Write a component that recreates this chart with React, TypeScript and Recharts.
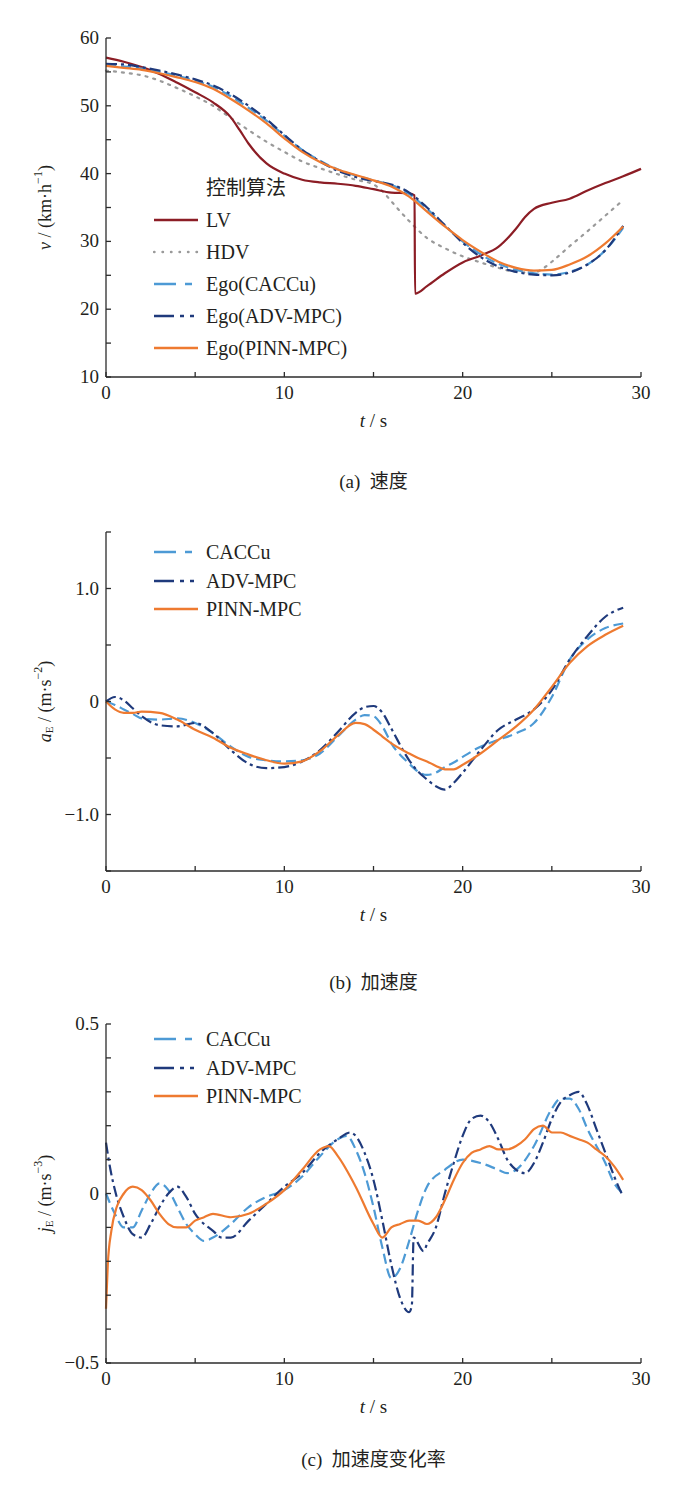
import React from 'react';
import { LineChart, Line, XAxis, YAxis } from 'recharts';

// ---- (a) speed, km/h ----
const lvT = [0, 1, 2, 3, 4, 5, 6, 7, 7.5, 8, 9, 10, 11, 12, 13, 14, 15, 16, 17, 17.3, 17.33, 18, 19, 20, 21, 22, 23, 23.5, 24, 25, 26, 27, 28, 29, 30];
const lvV = [57.1, 56.5, 55.7, 54.7, 53.4, 52.0, 50.5, 48.3, 46.4, 44.4, 41.5, 40.0, 39.1, 38.7, 38.5, 38.2, 37.7, 37.2, 37.1, 36.8, 22.3, 23.4, 25.3, 26.9, 27.9, 29.2, 31.9, 33.6, 34.8, 35.7, 36.3, 37.5, 38.6, 39.6, 40.7];

const hdvT = [0, 1, 2, 3, 4, 5, 6, 7, 8, 9, 10, 11, 12, 13, 14, 15, 15.5, 16, 17, 18, 19, 20, 21, 22, 23, 24, 24.5, 25, 26, 27, 28, 29];
const hdvV = [55.2, 54.9, 54.5, 53.7, 52.6, 51.4, 50.0, 48.2, 46.4, 44.7, 43.2, 41.8, 40.8, 39.9, 39.1, 38.4, 37.4, 35.9, 33.0, 30.5, 29.0, 27.8, 26.9, 26.1, 25.5, 25.4, 26.0, 27.0, 29.3, 31.5, 33.8, 36.1];

const egoT = [0, 1, 2, 3, 4, 5, 6, 7, 8, 9, 10, 11, 12, 13, 14, 15, 16, 17, 18, 19, 20, 21, 22, 23, 24, 25, 26, 27, 28, 29];
const caccV = [56.0, 55.8, 55.5, 55.0, 54.4, 53.7, 52.8, 51.4, 49.7, 47.8, 45.6, 43.5, 41.9, 40.6, 39.7, 39.0, 38.3, 37.0, 34.8, 32.3, 30.0, 28.1, 26.7, 25.8, 25.3, 25.1, 25.5, 26.6, 28.7, 32.0];
const advV = [56.2, 56.1, 55.7, 55.2, 54.6, 53.9, 53.0, 51.7, 50.0, 48.0, 45.7, 43.5, 41.8, 40.4, 39.5, 38.9, 38.4, 37.2, 35.0, 32.4, 29.8, 27.7, 26.3, 25.5, 25.1, 25.0, 25.4, 26.6, 28.7, 32.3];
const pinnV = [55.9, 55.6, 55.3, 54.8, 54.2, 53.5, 52.5, 51.0, 49.3, 47.4, 45.2, 43.2, 41.7, 40.6, 39.8, 39.0, 38.1, 36.6, 34.4, 32.2, 30.2, 28.5, 27.0, 26.1, 25.7, 25.8, 26.6, 27.8, 29.7, 32.2];

// ---- (b) acceleration, m/s^2 ----
const accT = [0, 0.5, 1, 1.5, 2, 3, 4, 5, 6, 7, 8, 9, 10, 11, 12, 13, 14, 14.5, 15, 15.5, 16, 17, 17.5, 18, 18.5, 19, 19.5, 20, 21, 22, 23, 24, 25, 26, 27, 28, 29];
const accCacc = [0, -0.03, -0.07, -0.11, -0.15, -0.16, -0.15, -0.19, -0.28, -0.40, -0.49, -0.52, -0.53, -0.52, -0.46, -0.31, -0.16, -0.12, -0.13, -0.22, -0.37, -0.55, -0.62, -0.65, -0.63, -0.58, -0.54, -0.49, -0.40, -0.34, -0.28, -0.19, 0.04, 0.37, 0.55, 0.65, 0.69];
const accAdv = [0, 0.04, 0.01, -0.06, -0.13, -0.21, -0.22, -0.19, -0.28, -0.43, -0.55, -0.59, -0.58, -0.53, -0.43, -0.27, -0.10, -0.05, -0.04, -0.10, -0.24, -0.52, -0.62, -0.69, -0.75, -0.78, -0.72, -0.63, -0.43, -0.25, -0.16, -0.07, 0.10, 0.37, 0.58, 0.75, 0.83];
const accPinn = [0, -0.07, -0.10, -0.10, -0.09, -0.10, -0.16, -0.25, -0.32, -0.41, -0.47, -0.52, -0.55, -0.53, -0.44, -0.30, -0.19, -0.20, -0.25, -0.31, -0.37, -0.46, -0.50, -0.53, -0.57, -0.60, -0.60, -0.56, -0.46, -0.34, -0.22, -0.07, 0.13, 0.34, 0.49, 0.59, 0.67];

// ---- (c) jerk, m/s^3 ----
const jCaccT = [0, 0.5, 1, 1.5, 2, 2.5, 3, 3.5, 4, 4.5, 5, 5.5, 6, 7, 8, 9, 10, 11, 12, 13, 13.5, 14, 14.5, 15, 15.5, 16, 16.5, 17, 17.5, 18, 19, 20, 21, 22, 22.5, 23, 24, 25, 25.5, 26, 26.5, 27, 28, 28.5, 29];
const jCaccV = [0, -0.06, -0.10, -0.10, -0.05, 0.0, 0.03, 0.01, -0.04, -0.09, -0.12, -0.14, -0.13, -0.09, -0.04, -0.01, 0.01, 0.05, 0.11, 0.16, 0.17, 0.13, 0.06, -0.04, -0.16, -0.25, -0.22, -0.14, -0.05, 0.02, 0.07, 0.10, 0.09, 0.07, 0.06, 0.07, 0.14, 0.25, 0.28, 0.28, 0.25, 0.19, 0.09, 0.03, 0.0];

const jAdvT = [0, 0.25, 0.5, 1, 1.5, 2, 2.5, 3, 3.5, 4, 4.5, 5, 6, 6.5, 7, 8, 9, 10, 11, 12, 13, 13.7, 14, 14.5, 15, 15.5, 16, 16.5, 17, 17.15, 17.25, 17.8, 18, 18.5, 19, 19.5, 20, 20.5, 21, 21.5, 22, 22.5, 23, 23.5, 24, 24.5, 25, 25.5, 26, 26.5, 27, 27.5, 28, 28.5, 29];
const jAdvV = [0.15, 0.07, 0.01, -0.07, -0.12, -0.13, -0.09, -0.04, 0.0, 0.02, -0.01, -0.06, -0.11, -0.13, -0.13, -0.08, -0.03, 0.02, 0.06, 0.12, 0.16, 0.18, 0.17, 0.12, 0.04, -0.08, -0.21, -0.31, -0.35, -0.33, -0.13, -0.17, -0.15, -0.10, 0.0, 0.09, 0.17, 0.22, 0.23, 0.21, 0.16, 0.10, 0.07, 0.06, 0.09, 0.15, 0.22, 0.27, 0.29, 0.30, 0.26, 0.19, 0.12, 0.05, -0.01];

const jPinnT = [0, 0.1, 0.3, 0.6, 1, 1.5, 2, 2.5, 3, 3.5, 4, 4.5, 5, 5.5, 6, 7, 8, 9, 10, 11, 12, 12.5, 13, 14, 15, 15.5, 16, 16.5, 17, 17.5, 18, 18.5, 19, 19.5, 20, 20.5, 21, 21.5, 22, 22.5, 23, 23.5, 24, 24.5, 25, 25.5, 26, 26.5, 27, 27.5, 28, 28.5, 29];
const jPinnV = [-0.34, -0.21, -0.11, -0.04, 0.0, 0.02, 0.01, -0.02, -0.06, -0.09, -0.10, -0.10, -0.08, -0.07, -0.06, -0.07, -0.06, -0.03, 0.01, 0.07, 0.13, 0.14, 0.11, 0.02, -0.09, -0.13, -0.10, -0.09, -0.08, -0.08, -0.09, -0.07, -0.02, 0.04, 0.09, 0.12, 0.13, 0.14, 0.13, 0.13, 0.14, 0.16, 0.19, 0.20, 0.18, 0.18, 0.17, 0.16, 0.15, 0.13, 0.11, 0.08, 0.04];

const xTicks = [0, 5, 10, 15, 20, 25, 30];
const vTicks = [10, 15, 20, 25, 30, 35, 40, 45, 50, 55, 60];
const aTicks = [-1.5, -1.0, -0.5, 0, 0.5, 1.0, 1.5];
const jTicks = [-0.5, -0.4, -0.3, -0.2, -0.1, 0, 0.1, 0.2, 0.3, 0.4, 0.5];

const SERIF = '"Liberation Serif", "Times New Roman", "Noto Sans CJK SC", serif';
const AXIS = '#2b2b2b';
const TXT = '#231f20';
const C_LV = '#8c1d25';
const C_HDV = '#9a9a9a';
const C_CACC = '#4d9ad5';
const C_ADV = '#1f3a7c';
const C_PINN = '#ee7a30';

const DASH_CACC = '10 5';
const DASH_ADV = '11 4 3 4';
const DASH_HDV = '2 6';

const pts = (ts: number[], vs: number[]) => ts.map((t, i) => ({ t, v: vs[i] }));

const XTick = (p: any) => {
  const { x, y, payload } = p;
  const major = payload.value % 10 === 0;
  return (
    <g>
      <line x1={x} y1={y} x2={x} y2={y - 5} stroke={AXIS} strokeWidth={1.3} />
      {major && (
        <text x={x} y={y + 22} textAnchor="middle" fontSize={19} fontFamily={SERIF} fill={TXT}>
          {payload.value}
        </text>
      )}
    </g>
  );
};

const makeYTick = (fmt: (v: number) => string | null) => (p: any) => {
  const { x, y, payload } = p;
  const lab = fmt(payload.value);
  return (
    <g>
      <line x1={x} y1={y} x2={x + 5} y2={y} stroke={AXIS} strokeWidth={1.3} />
      {lab !== null && (
        <text x={x - 7} y={y + 6} textAnchor="end" fontSize={19} fontFamily={SERIF} fill={TXT}>
          {lab}
        </text>
      )}
    </g>
  );
};

const near = (a: number, b: number) => Math.abs(a - b) < 1e-6;
const vFmt = (v: number) => (v % 10 === 0 ? String(v) : null);
const aFmt = (v: number) => (near(v, 1) ? '1.0' : near(v, 0) ? '0' : near(v, -1) ? '\u22121.0' : null);
const jFmt = (v: number) => (near(v, 0.5) ? '0.5' : near(v, 0) ? '0' : near(v, -0.5) ? '\u22120.5' : null);

const XTitle = ({ viewBox }: any) => (
  <text x={viewBox.x + viewBox.width / 2} y={viewBox.y + 50} textAnchor="middle" fontSize={19} fontFamily={SERIF} fill={TXT}>
    <tspan fontStyle="italic">t</tspan>
    <tspan> / s</tspan>
  </text>
);

const yTitle = (sym: string, sub: string | null, unit: string, pw: string) => ({ viewBox }: any) => {
  const cx = 45;
  const cy = viewBox.y + viewBox.height / 2;
  return (
    <text x={cx} y={cy} transform={`rotate(-90 ${cx} ${cy})`} textAnchor="middle" dominantBaseline="central" fontSize={18} fontFamily={SERIF} fill={TXT}>
      <tspan fontStyle="italic">{sym}</tspan>
      {sub && <tspan fontSize={11} dy={4}>{sub}</tspan>}
      <tspan dy={sub ? -4 : 0}>{` / (${unit}`}</tspan>
      <tspan fontSize={12} dy={-7}>{pw}</tspan>
      <tspan dy={7}>)</tspan>
    </text>
  );
};

type Entry = { name: string; color: string; dash?: string; cap?: 'round' | 'butt' };

const LegendBox = ({ left, top, title, entries, gap }: { left: number; top: number; title?: string; entries: Entry[]; gap: number }) => (
  <div style={{ position: 'absolute', left, top, fontFamily: SERIF, fontSize: 20, color: TXT, lineHeight: `${gap}px` }}>
    {title && <div style={{ paddingLeft: 53 }}>{title}</div>}
    {entries.map((e) => (
      <div key={e.name} style={{ display: 'flex', alignItems: 'center', height: gap }}>
        <svg width={46} height={10} style={{ marginRight: 7 }}>
          <line x1={1} y1={5} x2={45} y2={5} stroke={e.color} strokeWidth={2.4} strokeDasharray={e.dash} strokeLinecap={e.cap || 'butt'} />
        </svg>
        <span>{e.name}</span>
      </div>
    ))}
  </div>
);

const Caption = ({ top, children }: { top: number; children: React.ReactNode }) => (
  <div style={{ position: 'absolute', left: 106, width: 535, top, textAlign: 'center', fontFamily: SERIF, fontSize: 19, color: TXT }}>
    {children}
  </div>
);

const MARGIN = { top: 38, right: 41, bottom: 53, left: 46 };
const CH = 460;

const Panel = ({ top, yDomain, yTicks, yFmt, yLabel, children }: any) => (
  <div style={{ position: 'absolute', left: 0, top }}>
    <LineChart width={682} height={CH} margin={MARGIN}>
      <XAxis
        dataKey="t"
        type="number"
        domain={[0, 30]}
        ticks={xTicks}
        allowDuplicatedCategory={false}
        tickLine={false}
        tickSize={0}
        tickMargin={0}
        height={30}
        axisLine={{ stroke: AXIS, strokeWidth: 1.3 }}
        tick={XTick}
        label={{ content: XTitle }}
      />
      <YAxis
        type="number"
        domain={yDomain}
        ticks={yTicks}
        width={60}
        tickLine={false}
        tickSize={0}
        tickMargin={0}
        axisLine={{ stroke: AXIS, strokeWidth: 1.3 }}
        tick={makeYTick(yFmt)}
        label={{ content: yLabel }}
        allowDataOverflow
      />
      {children}
    </LineChart>
  </div>
);

const line = (key: string, data: any[], color: string, dash?: string, width = 2.2, cap: 'round' | 'butt' = 'butt') => (
  <Line
    key={key}
    data={data}
    dataKey="v"
    type="monotone"
    stroke={color}
    strokeWidth={width}
    strokeDasharray={dash}
    strokeLinecap={cap}
    dot={false}
    activeDot={false}
    isAnimationActive={false}
  />
);

const legend3: Entry[] = [
  { name: 'CACCu', color: C_CACC, dash: '22 9 7 60' },
  { name: 'ADV-MPC', color: C_ADV, dash: '20 6 4 6 4 60' },
  { name: 'PINN-MPC', color: C_PINN },
];

export default function App() {
  return (
    <div style={{ position: 'absolute', left: 0, top: 0, width: 682, height: 1485, background: '#fff', overflow: 'hidden' }}>
      {/* (a) */}
      <Panel top={0} yDomain={[10, 60]} yTicks={vTicks} yFmt={vFmt} yLabel={yTitle('v', null, 'km·h', '\u22121')}>
        {line('hdv', pts(hdvT, hdvV), C_HDV, DASH_HDV, 2.2, 'round')}
        {line('lv', pts(lvT, lvV), C_LV)}
        {line('cacc', pts(egoT, caccV), C_CACC, DASH_CACC)}
        {line('adv', pts(egoT, advV), C_ADV, DASH_ADV)}
        {line('pinn', pts(egoT, pinnV), C_PINN)}
      </Panel>
      <LegendBox
        left={153}
        top={172}
        gap={32}
        title="控制算法"
        entries={[
          { name: 'LV', color: C_LV },
          { name: 'HDV', color: C_HDV, dash: '0.5 8', cap: 'round' },
          { name: 'Ego(CACCu)', color: C_CACC, dash: '22 9 7 60' },
          { name: 'Ego(ADV-MPC)', color: C_ADV, dash: '20 6 4 6 4 60' },
          { name: 'Ego(PINN-MPC)', color: C_PINN },
        ]}
      />
      <Caption top={466}>(a)&ensp;速度</Caption>

      {/* (b) */}
      <Panel top={494} yDomain={[-1.5, 1.5]} yTicks={aTicks} yFmt={aFmt} yLabel={yTitle('a', 'E', 'm·s', '\u22122')}>
        {line('cacc', pts(accT, accCacc), C_CACC, DASH_CACC)}
        {line('adv', pts(accT, accAdv), C_ADV, DASH_ADV)}
        {line('pinn', pts(accT, accPinn), C_PINN)}
      </Panel>
      <LegendBox left={153} top={538} gap={28.5} entries={legend3} />
      <Caption top={967}>(b)&ensp;加速度</Caption>

      {/* (c) */}
      <Panel top={986} yDomain={[-0.5, 0.5]} yTicks={jTicks} yFmt={jFmt} yLabel={yTitle('j', 'E', 'm·s', '\u22123')}>
        {line('cacc', pts(jCaccT, jCaccV), C_CACC, DASH_CACC)}
        {line('adv', pts(jAdvT, jAdvV), C_ADV, DASH_ADV)}
        {line('pinn', pts(jPinnT, jPinnV), C_PINN)}
      </Panel>
      <LegendBox left={153} top={1025} gap={28.5} entries={legend3} />
      <Caption top={1444}>(c)&ensp;加速度变化率</Caption>
    </div>
  );
}
